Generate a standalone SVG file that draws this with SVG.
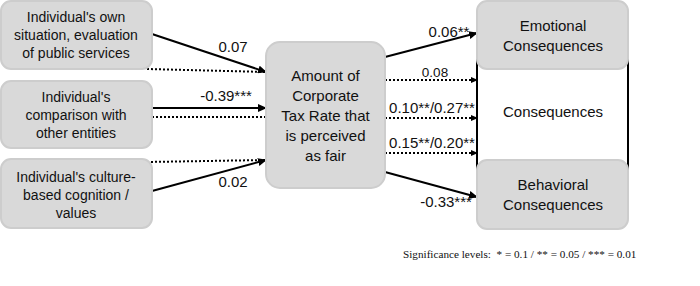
<svg xmlns="http://www.w3.org/2000/svg" width="700" height="286" viewBox="0 0 700 286">
<style>
.box{fill:#d9d9d9;stroke:#cdcdcd;stroke-width:2}
.t{font-family:"Liberation Sans",Arial,sans-serif;fill:#111;text-anchor:middle}
.s14{font-size:14px}
.s15{font-size:15px}
.solid{stroke:#000;stroke-width:2;fill:none}
.dot{stroke:#000;stroke-width:2;stroke-dasharray:2 2;fill:none}
.lbl{font-family:"Liberation Sans",Arial,sans-serif;font-size:15px;fill:#111;text-anchor:middle}
.lbl13{font-family:"Liberation Sans",Arial,sans-serif;font-size:13.5px;fill:#111;text-anchor:middle}
</style>
<defs>
<marker id="ah" markerUnits="userSpaceOnUse" markerWidth="9" markerHeight="8" refX="8" refY="4" orient="auto">
<path d="M0,0 L9,4 L0,8 Z" fill="#000"/>
</marker>
<marker id="ahs" markerUnits="userSpaceOnUse" markerWidth="7" markerHeight="6" refX="6" refY="3" orient="auto">
<path d="M0,0 L7,3 L0,6 Z" fill="#000"/>
</marker>
</defs>
<rect width="700" height="286" fill="#fff"/>

<g id="consequences">
<rect x="477" y="30" width="151" height="170" fill="none" stroke="#000" stroke-width="2"/>
<text class="t s15" x="553" y="117">Consequences</text>
</g>

<g id="connectors">
<line class="solid" x1="152" y1="34" x2="266" y2="72" marker-end="url(#ah)"/>
<line class="dot" x1="147" y1="69" x2="266" y2="72"/>
<line class="solid" x1="152" y1="108" x2="266" y2="108" marker-end="url(#ah)"/>
<line class="dot" x1="152" y1="117" x2="266" y2="117"/>
<line class="dot" x1="147" y1="162" x2="266" y2="160"/>
<line class="solid" x1="152" y1="191" x2="266" y2="160" marker-end="url(#ah)"/>
<line class="solid" x1="385" y1="57" x2="477" y2="33" marker-end="url(#ah)"/>
<line class="dot" x1="385" y1="80" x2="477" y2="80" marker-end="url(#ahs)"/>
<line class="dot" x1="385" y1="118" x2="477" y2="118" marker-end="url(#ahs)"/>
<line class="dot" x1="385" y1="153" x2="477" y2="153" marker-end="url(#ahs)"/>
<line class="solid" x1="385" y1="172" x2="477" y2="197" marker-end="url(#ah)"/>
<text class="lbl" x="233" y="52">0.07</text>
<text class="lbl" x="226" y="101">-0.39***</text>
<text class="lbl" x="233" y="187">0.02</text>
<text class="lbl" x="449" y="37">0.06**</text>
<text class="lbl13" x="435" y="77">0.08</text>
<text class="lbl" x="432" y="113">0.10**/0.27**</text>
<text class="lbl" x="432" y="148">0.15**/0.20**</text>
<text class="lbl" x="446" y="207">-0.33***</text>
</g>

<g id="own-situation">
<rect class="box" x="1" y="1" width="151" height="68" rx="10"/>
<text class="t s14" x="76" y="22">Individual's own</text>
<text class="t s14" x="76" y="40">situation, evaluation</text>
<text class="t s14" x="76" y="58">of public services</text>
</g>

<g id="comparison">
<rect class="box" x="1" y="81" width="151" height="67" rx="10"/>
<text class="t s14" x="76" y="102">Individual's</text>
<text class="t s14" x="76" y="120">comparison with</text>
<text class="t s14" x="76" y="138">other entities</text>
</g>

<g id="culture">
<rect class="box" x="1" y="159" width="151" height="69" rx="10"/>
<text class="t s14" x="76" y="182">Individual's culture-</text>
<text class="t s14" x="76" y="200">based cognition /</text>
<text class="t s14" x="76" y="218">values</text>
</g>

<g id="fair-rate">
<rect class="box" x="266" y="42" width="119" height="146" rx="14"/>
<text class="t s15" x="325.5" y="81">Amount of</text>
<text class="t s15" x="325.5" y="101">Corporate</text>
<text class="t s15" x="325.5" y="121">Tax Rate that</text>
<text class="t s15" x="325.5" y="141">is perceived</text>
<text class="t s15" x="325.5" y="161">as fair</text>
</g>

<g id="emotional">
<rect class="box" x="477" y="1" width="151" height="68" rx="10"/>
<text class="t s15" x="553" y="31">Emotional</text>
<text class="t s15" x="553" y="51">Consequences</text>
</g>

<g id="behavioral">
<rect class="box" x="477" y="160" width="151" height="69" rx="10"/>
<text class="t s15" x="553" y="190">Behavioral</text>
<text class="t s15" x="553" y="210">Consequences</text>
</g>

<text x="403" y="258" font-family="'Liberation Serif','Times New Roman',serif" font-size="11.2" fill="#111" xml:space="preserve">Significance levels:  * = 0.1 / ** = 0.05 / *** = 0.01</text>
</svg>
